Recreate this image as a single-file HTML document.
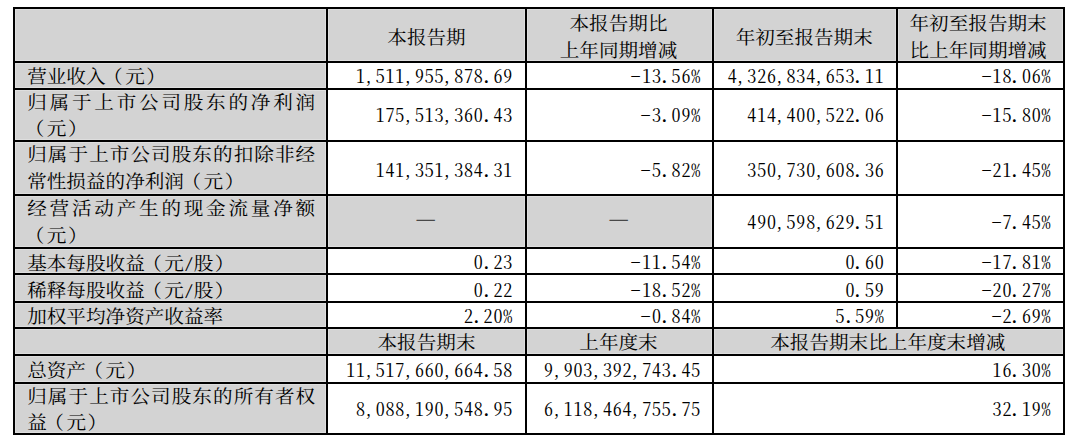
<!DOCTYPE html>
<html lang="zh-CN"><head><meta charset="utf-8"><title>主要财务数据</title>
<style>
html,body{margin:0;padding:0;background:#fff;}
body{width:1076px;height:446px;position:relative;overflow:hidden;
 font-family:"Noto Serif CJK SC","Liberation Serif",serif;font-size:19.6px;line-height:26px;color:#000;font-weight:400;}
.c{position:absolute;box-sizing:border-box;display:flex;flex-direction:column;justify-content:center;overflow:visible;}
.g{background:#d3d3d3;box-shadow:inset 0 0 0 1px #dedede;}
.t{position:relative;white-space:normal;}
.lab{padding-left:12.2px;}
.lab .t{width:288px;text-align:justify;text-justify:inter-character;}
.hd .t{text-align:center;}
.lab .t,.hd .t{transform:scaleY(0.95);transform-origin:50% 50%;}
.num .t{text-align:right;font-size:18.0px;letter-spacing:0.8px;font-feature-settings:"hwid" 1;white-space:nowrap;}
.hw{font-feature-settings:"hwid" 1;display:inline-block;transform:scaleY(0.76);transform-origin:50% 50%;}
.p{position:relative;left:-2px;}
.q{display:inline-block;position:relative;left:-1.8px;transform:scale(1.35);transform-origin:50% 80%;}
.m{display:inline-block;transform:translate(-0.8px,0.1px) scaleX(1.13);}
.pl{position:relative;left:-2.5px;}
.pr{position:relative;left:1.5px;}
.d{display:inline-block;transform:scale(1.17,1.4);color:#484848;}
.ln{position:absolute;background:#000;}
</style></head>
<body>
<div class="c hd g" style="left:15px;top:9px;width:311px;height:52px;"><div class="t" style="top:1.5px;line-height:28.42px"></div></div>
<div class="c hd g" style="left:328px;top:9px;width:197px;height:52px;"><div class="t" style="top:1.5px;line-height:28.42px">本报告期</div></div>
<div class="c hd g" style="left:527px;top:9px;width:185px;height:52px;"><div class="t" style="top:1.5px;line-height:28.42px;left:-1px">本报告期比<br>上年同期增减</div></div>
<div class="c hd g" style="left:714px;top:9px;width:182px;height:52px;"><div class="t" style="top:1.5px;line-height:28.42px;left:-0.8px">年初至报告期末</div></div>
<div class="c hd g" style="left:898px;top:9px;width:165px;height:52px;"><div class="t" style="top:1.5px;line-height:28.42px;left:-2.4px">年初至报告期末<br>比上年同期增减</div></div>
<div class="c lab g" style="left:15px;top:63px;width:311px;height:25px;"><div class="t" style="top:-0.5px;line-height:27.37px">营业收入<span class="pl">（</span>元<span class="pr">）</span></div></div>
<div class="c num" style="left:328px;top:63px;width:197px;height:25px;"><div class="t" style="top:-1px;padding-right:12.00px">1<span class="p">,</span>511<span class="p">,</span>955<span class="p">,</span>878<span class="q">.</span>69</div></div>
<div class="c num" style="left:527px;top:63px;width:185px;height:25px;"><div class="t" style="top:-1px;padding-right:11.00px"><span class="m">-</span>13<span class="q">.</span>56%</div></div>
<div class="c num" style="left:714px;top:63px;width:182px;height:25px;"><div class="t" style="top:-1px;padding-right:11.40px">4<span class="p">,</span>326<span class="p">,</span>834<span class="p">,</span>653<span class="q">.</span>11</div></div>
<div class="c num" style="left:898px;top:63px;width:165px;height:25px;"><div class="t" style="top:-1px;padding-right:11.60px"><span class="m">-</span>18<span class="q">.</span>06%</div></div>
<div class="c lab g" style="left:15px;top:90px;width:311px;height:50px;"><div class="t" style="top:-0.5px;line-height:27.37px">归属于上市公司股东的净利润<span class="pl">（</span>元<span class="pr">）</span></div></div>
<div class="c num" style="left:328px;top:90px;width:197px;height:50px;"><div class="t" style="top:-1px;padding-right:12.00px">175<span class="p">,</span>513<span class="p">,</span>360<span class="q">.</span>43</div></div>
<div class="c num" style="left:527px;top:90px;width:185px;height:50px;"><div class="t" style="top:-1px;padding-right:11.00px"><span class="m">-</span>3<span class="q">.</span>09%</div></div>
<div class="c num" style="left:714px;top:90px;width:182px;height:50px;"><div class="t" style="top:-1px;padding-right:11.40px">414<span class="p">,</span>400<span class="p">,</span>522<span class="q">.</span>06</div></div>
<div class="c num" style="left:898px;top:90px;width:165px;height:50px;"><div class="t" style="top:-1px;padding-right:11.60px"><span class="m">-</span>15<span class="q">.</span>80%</div></div>
<div class="c lab g" style="left:15px;top:142px;width:311px;height:52px;"><div class="t" style="top:-0.5px;line-height:28.42px">归属于上市公司股东的扣除非经常性损益的净利润<span class="pl">（</span>元<span class="pr">）</span></div></div>
<div class="c num" style="left:328px;top:142px;width:197px;height:52px;"><div class="t" style="top:0.7px;padding-right:12.00px">141<span class="p">,</span>351<span class="p">,</span>384<span class="q">.</span>31</div></div>
<div class="c num" style="left:527px;top:142px;width:185px;height:52px;"><div class="t" style="top:0.7px;padding-right:11.00px"><span class="m">-</span>5<span class="q">.</span>82%</div></div>
<div class="c num" style="left:714px;top:142px;width:182px;height:52px;"><div class="t" style="top:0.7px;padding-right:11.40px">350<span class="p">,</span>730<span class="p">,</span>608<span class="q">.</span>36</div></div>
<div class="c num" style="left:898px;top:142px;width:165px;height:52px;"><div class="t" style="top:0.7px;padding-right:11.60px"><span class="m">-</span>21<span class="q">.</span>45%</div></div>
<div class="c lab g" style="left:15px;top:196px;width:311px;height:51px;"><div class="t" style="top:-0.5px;line-height:27.89px">经营活动产生的现金流量净额<span class="pl">（</span>元<span class="pr">）</span></div></div>
<div class="c hd dash g" style="left:328px;top:196px;width:197px;height:51px;"><div class="t" style="top:-5.9px;left:-0.5px"><span class="d">—</span></div></div>
<div class="c hd dash g" style="left:527px;top:196px;width:185px;height:51px;"><div class="t" style="top:-5.9px;left:-1.1px"><span class="d">—</span></div></div>
<div class="c num" style="left:714px;top:196px;width:182px;height:51px;"><div class="t" style="top:-0.2px;padding-right:11.40px">490<span class="p">,</span>598<span class="p">,</span>629<span class="q">.</span>51</div></div>
<div class="c num" style="left:898px;top:196px;width:165px;height:51px;"><div class="t" style="top:-0.2px;padding-right:11.60px"><span class="m">-</span>7<span class="q">.</span>45%</div></div>
<div class="c lab g" style="left:15px;top:249px;width:311px;height:24px;"><div class="t" style="top:0.5px;line-height:27.37px">基本每股收益<span class="pl">（</span>元<span class="hw">/</span>股<span class="pr">）</span></div></div>
<div class="c num" style="left:328px;top:249px;width:197px;height:24px;"><div class="t" style="top:0px;padding-right:12.00px">0<span class="q">.</span>23</div></div>
<div class="c num" style="left:527px;top:249px;width:185px;height:24px;"><div class="t" style="top:0px;padding-right:11.00px"><span class="m">-</span>11<span class="q">.</span>54%</div></div>
<div class="c num" style="left:714px;top:249px;width:182px;height:24px;"><div class="t" style="top:0px;padding-right:11.40px">0<span class="q">.</span>60</div></div>
<div class="c num" style="left:898px;top:249px;width:165px;height:24px;"><div class="t" style="top:0px;padding-right:11.60px"><span class="m">-</span>17<span class="q">.</span>81%</div></div>
<div class="c lab g" style="left:15px;top:275px;width:311px;height:26px;"><div class="t" style="top:0.5px;line-height:27.37px">稀释每股收益<span class="pl">（</span>元<span class="hw">/</span>股<span class="pr">）</span></div></div>
<div class="c num" style="left:328px;top:275px;width:197px;height:26px;"><div class="t" style="top:1.0px;padding-right:12.00px">0<span class="q">.</span>22</div></div>
<div class="c num" style="left:527px;top:275px;width:185px;height:26px;"><div class="t" style="top:1.0px;padding-right:11.00px"><span class="m">-</span>18<span class="q">.</span>52%</div></div>
<div class="c num" style="left:714px;top:275px;width:182px;height:26px;"><div class="t" style="top:1.0px;padding-right:11.40px">0<span class="q">.</span>59</div></div>
<div class="c num" style="left:898px;top:275px;width:165px;height:26px;"><div class="t" style="top:1.0px;padding-right:11.60px"><span class="m">-</span>20<span class="q">.</span>27%</div></div>
<div class="c lab g" style="left:15px;top:303px;width:311px;height:24px;"><div class="t" style="top:0px;line-height:27.37px">加权平均净资产收益率</div></div>
<div class="c num" style="left:328px;top:303px;width:197px;height:24px;"><div class="t" style="top:0.3px;padding-right:12.00px">2<span class="q">.</span>20%</div></div>
<div class="c num" style="left:527px;top:303px;width:185px;height:24px;"><div class="t" style="top:0.3px;padding-right:11.00px"><span class="m">-</span>0<span class="q">.</span>84%</div></div>
<div class="c num" style="left:714px;top:303px;width:182px;height:24px;"><div class="t" style="top:0.3px;padding-right:11.40px">5<span class="q">.</span>59%</div></div>
<div class="c num" style="left:898px;top:303px;width:165px;height:24px;"><div class="t" style="top:0.3px;padding-right:11.60px"><span class="m">-</span>2<span class="q">.</span>69%</div></div>
<div class="c hd g" style="left:15px;top:329px;width:311px;height:25px;"><div class="t" style="top:-0.5px;line-height:27.37px"></div></div>
<div class="c hd g" style="left:328px;top:329px;width:197px;height:25px;"><div class="t" style="top:-0.5px;line-height:27.37px">本报告期末</div></div>
<div class="c hd g" style="left:527px;top:329px;width:185px;height:25px;"><div class="t" style="top:-0.5px;line-height:27.37px;left:-1px">上年度末</div></div>
<div class="c hd g" style="left:714px;top:329px;width:349px;height:25px;"><div class="t" style="top:-0.5px;line-height:27.37px;left:-0.7px">本报告期末比上年度末增减</div></div>
<div class="c lab g" style="left:15px;top:356px;width:311px;height:26px;"><div class="t" style="top:0px;line-height:27.37px">总资产<span class="pl">（</span>元<span class="pr">）</span></div></div>
<div class="c num" style="left:328px;top:356px;width:197px;height:26px;"><div class="t" style="top:0px;padding-right:12.00px">11<span class="p">,</span>517<span class="p">,</span>660<span class="p">,</span>664<span class="q">.</span>58</div></div>
<div class="c num" style="left:527px;top:356px;width:185px;height:26px;"><div class="t" style="top:0px;padding-right:11.00px">9<span class="p">,</span>903<span class="p">,</span>392<span class="p">,</span>743<span class="q">.</span>45</div></div>
<div class="c num" style="left:714px;top:356px;width:349px;height:26px;"><div class="t" style="top:0px;padding-right:11.60px">16<span class="q">.</span>30%</div></div>
<div class="c lab g" style="left:15px;top:384px;width:311px;height:49px;"><div class="t" style="top:-0.5px;line-height:27.37px">归属于上市公司股东的所有者权益<span class="pl">（</span>元<span class="pr">）</span></div></div>
<div class="c num" style="left:328px;top:384px;width:197px;height:49px;"><div class="t" style="top:-0.8px;padding-right:12.00px">8<span class="p">,</span>088<span class="p">,</span>190<span class="p">,</span>548<span class="q">.</span>95</div></div>
<div class="c num" style="left:527px;top:384px;width:185px;height:49px;"><div class="t" style="top:-0.8px;padding-right:11.00px">6<span class="p">,</span>118<span class="p">,</span>464<span class="p">,</span>755<span class="q">.</span>75</div></div>
<div class="c num" style="left:714px;top:384px;width:349px;height:49px;"><div class="t" style="top:-0.8px;padding-right:11.60px">32<span class="q">.</span>19%</div></div>
<div class="ln" style="left:13px;top:7px;width:1052px;height:2px"></div>
<div class="ln" style="left:13px;top:61px;width:1052px;height:2px"></div>
<div class="ln" style="left:13px;top:88px;width:1052px;height:2px"></div>
<div class="ln" style="left:13px;top:140px;width:1052px;height:2px"></div>
<div class="ln" style="left:13px;top:194px;width:1052px;height:2px"></div>
<div class="ln" style="left:13px;top:247px;width:1052px;height:2px"></div>
<div class="ln" style="left:13px;top:273px;width:1052px;height:2px"></div>
<div class="ln" style="left:13px;top:301px;width:1052px;height:2px"></div>
<div class="ln" style="left:13px;top:327px;width:1052px;height:2px"></div>
<div class="ln" style="left:13px;top:354px;width:1052px;height:2px"></div>
<div class="ln" style="left:13px;top:382px;width:1052px;height:2px"></div>
<div class="ln" style="left:13px;top:433px;width:1052px;height:2px"></div>
<div class="ln" style="left:13px;top:7px;width:2px;height:428px"></div>
<div class="ln" style="left:326px;top:7px;width:2px;height:428px"></div>
<div class="ln" style="left:525px;top:7px;width:2px;height:428px"></div>
<div class="ln" style="left:712px;top:7px;width:2px;height:428px"></div>
<div class="ln" style="left:896px;top:7px;width:2px;height:322px"></div>
<div class="ln" style="left:1063px;top:7px;width:2px;height:428px"></div>
</body></html>
